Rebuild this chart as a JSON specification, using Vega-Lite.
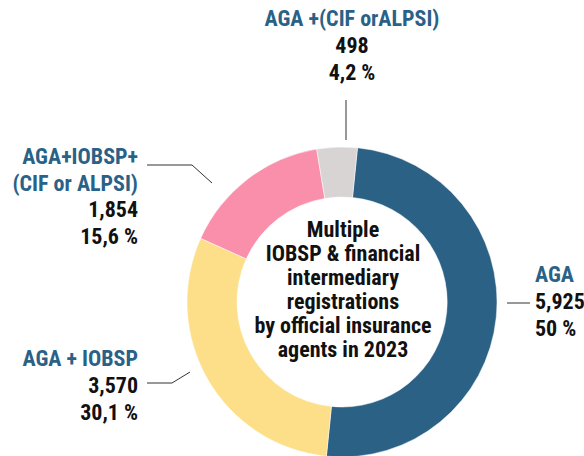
{
  "$schema": "https://vega.github.io/schema/vega-lite/v6.json",
  "width": 584,
  "height": 456,
  "padding": 0,
  "autosize": "none",
  "background": "white",
  "config": {"view": {"stroke": null}, "text": {"font": "Roboto Condensed", "fontWeight": "bold", "fontSize": 22}},
  "datasets": {
    "reg": [
      {"cat": "AGA", "name": "AGA", "value": 5925, "pct": "50 %", "k": 1},
      {"cat": "AGA + IOBSP", "name": "AGA + IOBSP", "value": 3570, "pct": "30,1 %", "k": 2},
      {"cat": "AGA+IOBSP+(CIF or ALPSI)", "name": "AGA+IOBSP+\n(CIF or ALPSI)", "value": 1854, "pct": "15,6 %", "k": 3},
      {"cat": "AGA +(CIF orALPSI)", "name": "AGA +(CIF orALPSI)", "value": 498, "pct": "4,2 %", "k": 4}
    ],
    "title": [{"t": "Multiple\nIOBSP & financial\nintermediary\nregistrations\nby official insurance\nagents in 2023"}]
  },
  "data": {"name": "reg"},
  "transform": [{"calculate": "format(datum.value, ',') + '\\n' + datum.pct", "as": "nums"}],
  "layer": [
    {
      "mark": {"type": "arc", "x": 342, "y": 302, "outerRadius": 155, "innerRadius": 105, "stroke": "white", "strokeWidth": 0.5},
      "encoding": {
        "theta": {"field": "value", "type": "quantitative", "stack": true, "scale": {"range": [0.1, 6.3832]}},
        "order": {"field": "k", "type": "quantitative"},
        "color": {"field": "cat", "type": "nominal", "legend": null,
          "scale": {"domain": ["AGA", "AGA + IOBSP", "AGA+IOBSP+(CIF or ALPSI)", "AGA +(CIF orALPSI)"],
                    "range": ["#2c6186", "#fddf8a", "#f98fab", "#d8d4d3"]}}
      }
    },
    {
      "transform": [{"filter": "datum.k == 1"}],
      "layer": [
        {"mark": {"type": "text", "x": 535, "y": 282, "align": "left", "baseline": "alphabetic", "color": "#2a6186"}, "encoding": {"text": {"field": "name"}}},
        {"mark": {"type": "text", "x": 535, "y": 309, "align": "left", "baseline": "alphabetic", "color": "#111", "lineBreak": "\n", "lineHeight": 26.5}, "encoding": {"text": {"field": "nums"}}}
      ]
    },
    {
      "transform": [{"filter": "datum.k == 2"}],
      "layer": [
        {"mark": {"type": "text", "x": 138, "y": 366, "align": "right", "baseline": "alphabetic", "color": "#2a6186"}, "encoding": {"text": {"field": "name"}}},
        {"mark": {"type": "text", "x": 138, "y": 393, "align": "right", "baseline": "alphabetic", "color": "#111", "lineBreak": "\n", "lineHeight": 26.5}, "encoding": {"text": {"field": "nums"}}}
      ]
    },
    {
      "transform": [{"filter": "datum.k == 3"}],
      "layer": [
        {"mark": {"type": "text", "x": 138, "y": 164, "align": "right", "baseline": "alphabetic", "color": "#2a6186", "lineBreak": "\n", "lineHeight": 26.5}, "encoding": {"text": {"field": "name"}}},
        {"mark": {"type": "text", "x": 138, "y": 217, "align": "right", "baseline": "alphabetic", "color": "#111", "lineBreak": "\n", "lineHeight": 26.5}, "encoding": {"text": {"field": "nums"}}}
      ]
    },
    {
      "transform": [{"filter": "datum.k == 4"}],
      "layer": [
        {"mark": {"type": "text", "x": 352, "y": 26, "align": "center", "baseline": "alphabetic", "color": "#2a6186"}, "encoding": {"text": {"field": "name"}}},
        {"mark": {"type": "text", "x": 352, "y": 53, "align": "center", "baseline": "alphabetic", "color": "#111", "lineBreak": "\n", "lineHeight": 26.5}, "encoding": {"text": {"field": "nums"}}}
      ]
    },
    {
      "data": {"name": "title"},
      "mark": {"type": "text", "x": 343, "y": 237, "align": "center", "baseline": "alphabetic", "color": "#111", "lineBreak": "\n", "lineHeight": 24, "fontSize": 22},
      "encoding": {"text": {"field": "t"}}
    },
    {
      "data": {"values": [
        {"seg": "a", "x1": 346, "y1": 100, "x2": 346, "y2": 140},
        {"seg": "b", "x1": 147, "y1": 165, "x2": 192, "y2": 165},
        {"seg": "c", "x1": 192, "y1": 165, "x2": 212, "y2": 183},
        {"seg": "d", "x1": 147, "y1": 383, "x2": 172, "y2": 383},
        {"seg": "e", "x1": 172, "y1": 383, "x2": 190, "y2": 372},
        {"seg": "f", "x1": 507, "y1": 303, "x2": 530, "y2": 303}
      ]},
      "mark": {"type": "rule", "color": "#333", "strokeWidth": 1},
      "encoding": {
        "x": {"field": "x1", "type": "quantitative", "scale": {"domain": [0, 584]}, "axis": null},
        "x2": {"field": "x2"},
        "y": {"field": "y1", "type": "quantitative", "scale": {"domain": [0, 456], "reverse": true}, "axis": null},
        "y2": {"field": "y2"}
      }
    }
  ]
}
